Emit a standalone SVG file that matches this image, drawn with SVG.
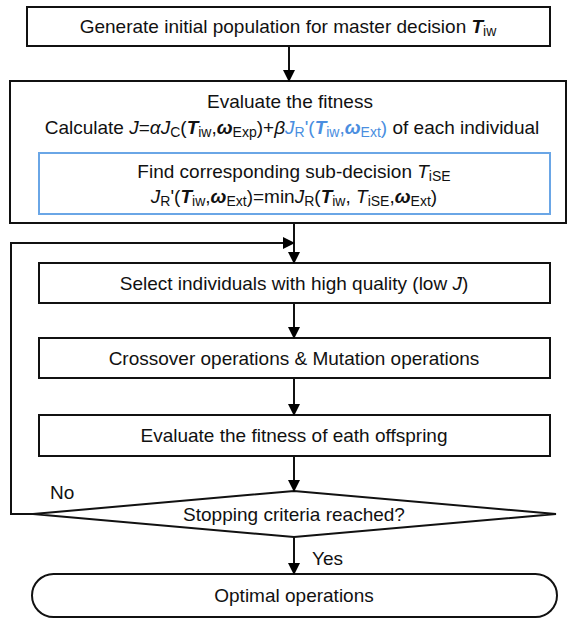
<svg xmlns="http://www.w3.org/2000/svg" width="568" height="619" viewBox="0 0 568 619">
<defs>
<marker id="ah" markerWidth="12" markerHeight="12" refX="11" refY="6" orient="auto" markerUnits="userSpaceOnUse">
<path d="M0,0 L12,6 L0,12 Z" fill="#000"/>
</marker>
<style>
text{font-family:"Liberation Sans",Arial,sans-serif;font-size:19px;fill:#111;}
.box{fill:#fff;stroke:#111;stroke-width:2;}
.blue{fill:#fff;stroke:#6aa6e6;stroke-width:2;}
.conn{fill:none;stroke:#111;stroke-width:2;}
.s{font-size:14px;}
.bi{font-weight:bold;font-style:italic;}
.i{font-style:italic;}
.bt{fill:#4a8ee0;}
</style>
</defs>
<g id="n1">
<rect class="box" x="27" y="7" width="523" height="39"/>
<text x="288" y="33" text-anchor="middle">Generate initial population for master decision <tspan class="bi">T</tspan><tspan class="s" dy="3">iw</tspan></text>
</g>
<g id="n2">
<rect class="box" x="10" y="81" width="556" height="142"/>
<text x="290" y="108" text-anchor="middle">Evaluate the fitness</text>
<text x="292" y="134" text-anchor="middle">Calculate <tspan class="i">J</tspan>=<tspan class="i">αJ</tspan><tspan class="s" dy="3">C</tspan><tspan dy="-3">(</tspan><tspan class="bi">T</tspan><tspan class="s" dy="3">iw</tspan><tspan dy="-3">,</tspan><tspan class="bi">ω</tspan><tspan class="s" dy="3">Exp</tspan><tspan dy="-3">)+</tspan><tspan class="i">β</tspan><tspan class="i bt">J</tspan><tspan class="s bt" dy="3">R</tspan><tspan class="bt" dy="-3">'(</tspan><tspan class="bi bt">T</tspan><tspan class="s bt" dy="3">iw</tspan><tspan class="bt" dy="-3">,</tspan><tspan class="bi bt">ω</tspan><tspan class="s bt" dy="3">Ext</tspan><tspan class="bt" dy="-3">)</tspan> of each individual</text>
</g>
<g id="n3">
<rect class="blue" x="39" y="153" width="511" height="61"/>
<text x="294" y="178" text-anchor="middle">Find corresponding sub-decision <tspan class="i">T</tspan><tspan class="s" dy="3">iSE</tspan></text>
<text x="294" y="203" text-anchor="middle"><tspan class="i">J</tspan><tspan class="s" dy="3">R</tspan><tspan dy="-3">'(</tspan><tspan class="bi">T</tspan><tspan class="s" dy="3">iw</tspan><tspan dy="-3">,</tspan><tspan class="bi">ω</tspan><tspan class="s" dy="3">Ext</tspan><tspan dy="-3">)=min</tspan><tspan class="i">J</tspan><tspan class="s" dy="3">R</tspan><tspan dy="-3">(</tspan><tspan class="bi">T</tspan><tspan class="s" dy="3">iw</tspan><tspan dy="-3">, </tspan><tspan class="i">T</tspan><tspan class="s" dy="3">iSE</tspan><tspan dy="-3">,</tspan><tspan class="bi">ω</tspan><tspan class="s" dy="3">Ext</tspan><tspan dy="-3">)</tspan></text>
</g>
<g id="n4">
<rect class="box" x="39" y="263" width="511" height="40"/>
<text x="294" y="290" text-anchor="middle">Select individuals with high quality (low <tspan class="i">J</tspan>)</text>
</g>
<g id="n5">
<rect class="box" x="39" y="338" width="511" height="40"/>
<text x="294" y="365" text-anchor="middle">Crossover operations &amp; Mutation operations</text>
</g>
<g id="n6">
<rect class="box" x="39" y="415" width="511" height="41"/>
<text x="294" y="442" text-anchor="middle">Evaluate the fitness of eath offspring</text>
</g>
<g id="n7">
<polygon class="box" points="33,514 294,491 556,514 294,537"/>
<text x="294" y="521" text-anchor="middle">Stopping criteria reached?</text>
</g>
<g id="n8">
<rect class="box" x="32" y="574" width="525" height="43" rx="21.5" ry="21.5"/>
<text x="294" y="602" text-anchor="middle">Optimal operations</text>
</g>
<g id="connectors">
<path class="conn" d="M289,46 V81" marker-end="url(#ah)"/>
<path class="conn" d="M294,223 V263" marker-end="url(#ah)"/>
<path class="conn" d="M33,514 H11 V243 H294" marker-end="url(#ah)"/>
<path class="conn" d="M294,303 V338" marker-end="url(#ah)"/>
<path class="conn" d="M294,378 V415" marker-end="url(#ah)"/>
<path class="conn" d="M294,456 V491" marker-end="url(#ah)"/>
<path class="conn" d="M294,537 V574" marker-end="url(#ah)"/>
<text x="50" y="499">No</text>
<text x="312" y="565">Yes</text>
</g>
</svg>
